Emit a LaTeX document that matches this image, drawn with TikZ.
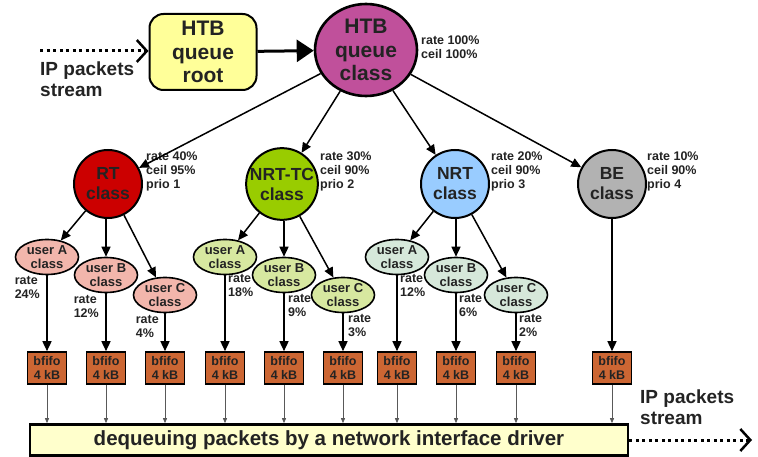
\documentclass[tikz,border=0pt]{standalone}
\usepackage{fontspec}
\setmainfont{Liberation Sans}
\usetikzlibrary{arrows.meta,positioning,calc,shapes.geometric}
\usepackage{xcolor}

\definecolor{rootyellow}{RGB}{255,255,153}
\definecolor{clsmagenta}{RGB}{192,80,155}
\definecolor{rtred}{RGB}{204,0,0}
\definecolor{tcgreen}{RGB}{153,204,0}
\definecolor{nrtblue}{RGB}{153,204,255}
\definecolor{begrey}{RGB}{178,178,178}
\definecolor{rtpink}{RGB}{242,182,172}
\definecolor{tclight}{RGB}{215,232,160}
\definecolor{nrtlight}{RGB}{214,232,218}
\definecolor{fifobrown}{RGB}{204,102,51}
\definecolor{deqyellow}{RGB}{255,255,204}
\definecolor{txtgrey}{RGB}{35,35,35}

\tikzset{
  bigtxt/.style={font=\fontsize{21}{23.5}\selectfont\bfseries, align=center, text=txtgrey},
  midcls/.style={circle, draw, line width=2pt, minimum size=68pt, inner sep=0pt,
                 font=\fontsize{17.5}{20}\selectfont\bfseries, align=center, text=txtgrey},
  usercls/.style={ellipse, draw, line width=1.6pt, minimum width=63pt, minimum height=35pt,
                  inner sep=0pt, font=\fontsize{13}{14}\selectfont\bfseries, align=center, text=txtgrey},
  ratetxt/.style={font=\fontsize{12.5}{14}\selectfont\bfseries, align=left, text=txtgrey, inner sep=0pt},
  fifobox/.style={draw, line width=1.6pt, fill=fifobrown, minimum width=39pt, minimum height=32pt,
                  inner sep=0pt, font=\fontsize{12.5}{14}\selectfont\bfseries, align=center, text=txtgrey},
  streamtxt/.style={font=\fontsize{19}{20.5}\selectfont\bfseries, align=left, text=txtgrey, inner sep=0pt},
  tree/.style={line width=1.5pt, -{Triangle[length=10pt,width=9pt]}},
  drain/.style={line width=0.8pt, draw=black!65, -{Triangle[length=5pt,width=4pt]}},
  stream/.style={line width=3pt, dash pattern=on 3pt off 3.5pt,
                 -{Straight Barb[length=10pt,width=22pt,line width=2.5pt]}}
}

\begin{document}
\begin{tikzpicture}[x=1pt, y=-1pt]
    \useasboundingbox (0,0) rectangle (758,457);

    % Root and top class
    \node[bigtxt, draw, line width=2pt, fill=rootyellow, rounded corners=14pt,
          minimum width=107pt, minimum height=76pt, inner sep=0pt] (root) at (203,52) {HTB\\queue\\root};
    \node[bigtxt, ellipse, draw, line width=2.6pt, fill=clsmagenta,
          minimum width=102pt, minimum height=92pt, inner sep=0pt] (cls) at (366,50) {HTB\\queue\\class};
    \node[ratetxt, anchor=west] (clsrate) at (421,47) {rate 100\%\\ceil 100\%};

    % Incoming stream
    \coordinate (inp) at (40,51);
    \draw[stream] (inp) -- (root.west |- inp);
    \node[streamtxt, anchor=north west] (intxt) at (40,62) {IP packets\\stream};
    \draw[line width=3pt, -{Triangle[length=17pt,width=22pt]}] (root) -- (cls);

    % Second level classes
    \node[midcls, fill=rtred] (rt) at (108,184) {RT\\class};
    \node[midcls, fill=tcgreen] (nrttc) at (282,184) {NRT-TC\\class};
    \node[midcls, fill=nrtblue] (nrt) at (455,184) {NRT\\class};
    \node[midcls, fill=begrey] (be) at (612,184) {BE\\class};
    \node[ratetxt, anchor=north west] at (146,152) {rate 40\%\\ceil 95\%\\prio 1};
    \node[ratetxt, anchor=north west] at (320,152) {rate 30\%\\ceil 90\%\\prio 2};
    \node[ratetxt, anchor=north west] at (491,152) {rate 20\%\\ceil 90\%\\prio 3};
    \node[ratetxt, anchor=north west] at (647,152) {rate 10\%\\ceil 90\%\\prio 4};
    \draw[tree] (cls) -- (rt);
    \draw[tree] (cls) -- (nrttc);
    \draw[tree] (cls) -- (nrt);
    \draw[tree] (cls) -- (be);

    % User classes
    \node[usercls, fill=rtpink] (rta) at (47,257) {user A\\class};
    \node[usercls, fill=rtpink] (rtb) at (106,275) {user B\\class};
    \node[usercls, fill=rtpink] (rtc) at (165,295) {user C\\class};
    \node[usercls, fill=tclight] (tca) at (225,257) {user A\\class};
    \node[usercls, fill=tclight] (tcb) at (284,275) {user B\\class};
    \node[usercls, fill=tclight] (tcc) at (343,295) {user C\\class};
    \node[usercls, fill=nrtlight] (nra) at (397,257) {user A\\class};
    \node[usercls, fill=nrtlight] (nrb) at (456,275) {user B\\class};
    \node[usercls, fill=nrtlight] (nrc) at (516,295) {user C\\class};
    \draw[tree] (rt) -- (rta);
    \draw[tree] (rt.south -| rtb) -- (rtb);
    \draw[tree] (rt) -- (rtc);
    \draw[tree] (nrttc) -- (tca);
    \draw[tree] (nrttc.south -| tcb) -- (tcb);
    \draw[tree] (nrttc) -- (tcc);
    \draw[tree] (nrt) -- (nra);
    \draw[tree] (nrt.south -| nrb) -- (nrb);
    \draw[tree] (nrt) -- (nrc);

    % User rates
    \node[ratetxt, anchor=north east] at (40,276) {rate\\24\%};
    \node[ratetxt, anchor=north east] at (99,295) {rate\\12\%};
    \node[ratetxt, anchor=north east] at (159,315) {rate\\4\%};
    \node[ratetxt, anchor=north west] at (228,274) {rate\\18\%};
    \node[ratetxt, anchor=north west] at (288,294) {rate\\9\%};
    \node[ratetxt, anchor=north west] at (348,314) {rate\\3\%};
    \node[ratetxt, anchor=north west] at (400,274) {rate\\12\%};
    \node[ratetxt, anchor=north west] at (459,294) {rate\\6\%};
    \node[ratetxt, anchor=north west] at (519,314) {rate\\2\%};

    % Dequeue box
    \node[draw, line width=2.6pt, fill=deqyellow, minimum width=598pt, minimum height=31pt,
          font=\fontsize{20.5}{22}\selectfont\bfseries, text=txtgrey] (deq) at (329,440)
          {dequeuing packets by a network interface driver};

    % bfifo queues
    \foreach \cl in {rta,rtb,rtc,tca,tcb,tcc,nra,nrb,nrc,be} {
        \node[fifobox] (f\cl) at (\cl |- 0,368) {bfifo\\4 kB};
        \draw[tree] (\cl) -- (f\cl);
        \draw[drain] (f\cl) -- (f\cl |- deq.north);
    }

    % Outgoing stream
    \coordinate (outp) at (752,440);
    \draw[stream] (deq.east) -- (outp);
    \node[streamtxt, anchor=north west] (outtxt) at (640,390) {IP packets\\stream};
\end{tikzpicture}
\end{document}
